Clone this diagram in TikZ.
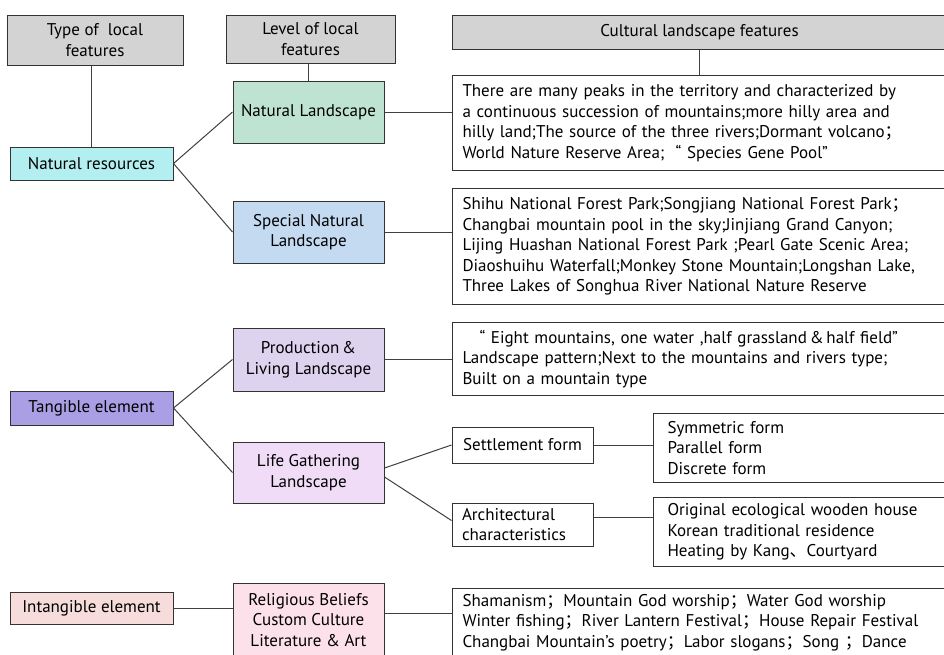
\documentclass[tikz,border=0pt]{standalone}
\usepackage{fontspec}
\setmainfont{PT Sans}
\newfontfamily\cjk{Noto Sans CJK SC}
\usetikzlibrary{positioning}
\newcommand\fsemi{{\cjk ；}}
\newcommand\dunhao{{\cjk 、}}
\definecolor{headgray}{HTML}{D3D3D3}
\definecolor{resfill}{HTML}{B3EEF0}
\definecolor{natfill}{HTML}{BFE3D3}
\definecolor{specfill}{HTML}{C4DAF1}
\definecolor{prodfill}{HTML}{DDD3EF}
\definecolor{tangfill}{HTML}{AA9FE5}
\definecolor{lifefill}{HTML}{F0DCF6}
\definecolor{intfill}{HTML}{F6DCDA}
\definecolor{relfill}{HTML}{FCE1EB}
\begin{document}
\begin{tikzpicture}
				[x=1pt, y=-1pt,
					every node/.style={font=\fontsize{17}{20.5}\selectfont, text=black},
					box/.style={rectangle, draw=black!80, line width=1pt, inner sep=0pt, align=center},
					headbox/.style={box, fill=headgray},
					typebox/.style={box, minimum width=163, minimum height=33},
					levelbox/.style={box, minimum width=151, minimum height=62},
					textbox/.style={box, anchor=north west, align=left, inner xsep=10, text width=520, minimum height=70},
					link/.style={draw=black!75, line width=1pt},
				]
				\useasboundingbox (0,0) rectangle (944,654);
				\clip (0,0) rectangle (944,654);
				\fill[white] (0,0) rectangle (944,654);

				\node [headbox, minimum width=176, minimum height=50] (typehead) at (95,40) {Type of\ \ local\\features};
				\node [headbox, minimum width=169, minimum height=48] (levelhead) at (310.5,39) {Level of local\\features};
				\node [headbox, anchor=west, minimum width=494, minimum height=34] (culthead) at (452,32) {Cultural landscape features};

				\node [typebox, fill=resfill] (natres) at (91.5,163.5) {Natural resources};
				\node [typebox, fill=tangfill, minimum height=34] (tangible) at (91.5,408) {Tangible element};
				\node [typebox, fill=intfill, minimum height=32] (intangible) at (91.5,608) {Intangible element};

				\node [levelbox, fill=natfill] (natland) at (308.5,112) {Natural Landscape};
				\node [levelbox, fill=specfill] (specland) at (308.5,232) {Special Natural\\Landscape};
				\node [levelbox, fill=prodfill, minimum height=63] (prodland) at (308.5,359.5) {Production\,\&\\Living Landscape};
				\node [levelbox, fill=lifefill, minimum height=61] (lifeland) at (308.5,472.5) {Life Gathering\\Landscape};
				\node [levelbox, fill=relfill, minimum height=74] (religion) at (308.5,620) {Religious Beliefs\\Custom Culture\\Literature \& Art};

				\node [textbox, minimum height=95] (natlist) at (452,75) {There are many peaks in the territory and characterized by\\a continuous succession of mountains;more hilly area and\\hilly land;The source of the three rivers;Dormant volcano\fsemi\\World Nature Reserve Area;\ \ “ Species Gene Pool”};
				\node [textbox, minimum height=116] (speclist) at (452,188) {Shihu National Forest Park;Songjiang National Forest Park\fsemi\\Changbai mountain pool in the sky;Jinjiang Grand Canyon;\\Lijing Huashan National Forest Park ;Pearl Gate Scenic Area;\\Diaoshuihu Waterfall;Monkey Stone Mountain;Longshan Lake,\\Three Lakes of Songhua River National Nature Reserve};
				\node [textbox, minimum height=73] (prodlist) at (452,322) {\ \ \ “ Eight mountains, one water ,half grassland\,\&\,half field”\\Landscape pattern;Next to the mountains and rivers type;\\Built on a mountain type};
				\node [box, minimum width=141, minimum height=36] (settle) at (522.5,445) {Settlement form};
				\node [box, align=left, inner xsep=10, text width=121, minimum height=43] (archi) at (522.5,524.5) {Architectural\\characteristics};
				\node [textbox, inner xsep=14, minimum height=69] (settlelist) at (653,413) {Symmetric form\\Parallel form\\Discrete form};
				\node [textbox, inner xsep=14, minimum height=69] (archlist) at (653,497) {Original ecological wooden house\\Korean traditional residence\\Heating by Kang\dunhao Courtyard};
				\node [textbox, minimum height=68] (rellist) at (452,588) {Shamanism\fsemi Mountain God worship\fsemi Water God worship\\Winter fishing\fsemi River Lantern Festival\fsemi House Repair Festival\\Changbai Mountain’s poetry\fsemi Labor slogans\fsemi Song \fsemi Dance};

				\draw[link] (natres.north |- typehead.south) -- (natres.north);
				\draw[link] (natland.north |- levelhead.south) -- (natland.north);
				\draw[link] (culthead.south) -- (culthead.south |- natlist.north);
				\draw[link] (natres.east) -- (natland.west);
				\draw[link] (natres.east) -- (specland.west);
				\draw[link] (natland.east) -- (natland.east -| natlist.west);
				\draw[link] (specland.east) -- (specland.east -| speclist.west);
				\draw[link] (prodland.east) -- (prodland.east -| prodlist.west);
				\draw[link] (tangible.east) -- (prodland.west);
				\draw[link] (tangible.east) -- (lifeland.west);
				\draw[link] ([yshift=4.5pt]lifeland.east) -- (settle.west);
				\draw[link] ([yshift=-4.5pt]lifeland.east) -- ([yshift=4pt]archi.west);
				\draw[link] (settle.east) -- (settle.east -| settlelist.west);
				\draw[link] ([yshift=7pt]archi.east) -- ([yshift=7pt]archi.east -| archlist.west);
				\draw[link] (intangible.east) -- (intangible.east -| religion.west);
				\draw[link] ([yshift=7pt]religion.east) -- ([yshift=7pt]religion.east -| rellist.west);

			\end{tikzpicture}
\end{document}
